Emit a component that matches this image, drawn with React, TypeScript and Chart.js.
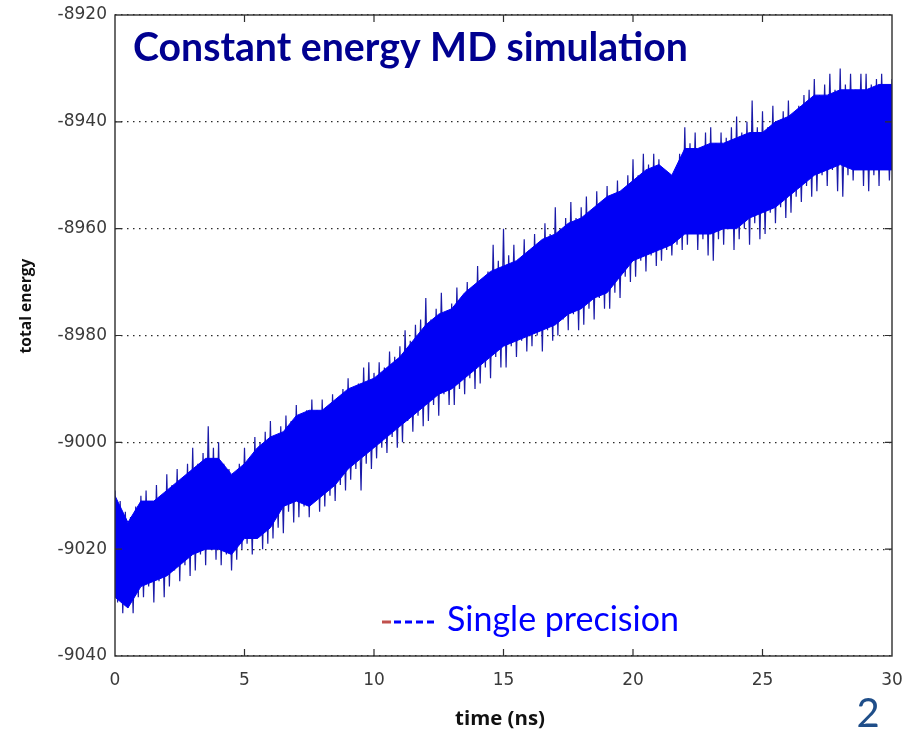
import React, { useEffect, useRef } from "react";
import { Chart, registerables } from "chart.js";

Chart.register(...registerables);

// ---- axis settings ----
const X_MIN = 0;
const X_MAX = 30;
const X_STEP = 5;
const Y_MIN = -9040;
const Y_MAX = -8920;
const Y_STEP = 20;

// ---- text ----
const TITLE = "Constant energy MD simulation";
const LEGEND_LABEL = "Single precision";
const X_TITLE = "time (ns)";
const Y_TITLE = "total energy";
const PAGE_NUMBER = "2";

// ---- solid core of the fluctuating band, every 0.5 ns from 0 to 30 ----
const CORE_STEP = 0.5;
const coreTop = [
  -9010, -9015, -9011, -9011, -9009, -9007, -9005, -9003, -9003, -9006,
  -9004, -9001, -8999, -8998, -8995, -8994, -8994, -8992, -8990, -8989,
  -8988, -8986, -8984, -8981, -8978, -8976, -8975, -8972, -8970, -8968,
  -8967, -8966, -8964, -8962, -8961, -8959, -8958, -8956, -8954, -8953,
  -8951, -8949, -8948, -8950, -8945, -8945, -8944, -8944, -8943, -8942,
  -8942, -8940, -8939, -8937, -8935, -8935, -8934, -8934, -8934, -8933,
  -8933,
];
const coreBottom = [
  -9029, -9031, -9027, -9026, -9025, -9023, -9021, -9020, -9020, -9021,
  -9018, -9018, -9016, -9012, -9011, -9012, -9010, -9008, -9005, -9003,
  -9001, -8999, -8997, -8995, -8993, -8991, -8990, -8988, -8986, -8984,
  -8982, -8981, -8980, -8979, -8978, -8976, -8975, -8973, -8972, -8969,
  -8966, -8965, -8964, -8963, -8961, -8961, -8961, -8960, -8960, -8958,
  -8957, -8956, -8954, -8952, -8950, -8949, -8948, -8949, -8949, -8949,
  -8949,
];

// ---- fluctuation peaks (t = 0, 0.2, ... 30) and troughs (t = 0.1, 0.3, ... 29.9) ----
const PEAK_STEP = 0.2;
const peaks = [
  -9009, -9011, -9013, -9014, -9012,
  -9010, -9009, -9011, -9008, -9010,
  -9006, -9008, -9005, -9007, -9004,
  -9001, -9004, -9002, -8997, -9001,
  -9000, -9004, -9005, -9007, -9004,
  -9001, -9003, -8999, -9000, -8998,
  -8996, -8999, -8997, -8995, -8996,
  -8993, -8995, -8994, -8992, -8994,
  -8992, -8994, -8991, -8992, -8990,
  -8988, -8990, -8989, -8986, -8985,
  -8987, -8985, -8986, -8983, -8984,
  -8982, -8979, -8981, -8978, -8977,
  -8973, -8977, -8975, -8972, -8976,
  -8974, -8971, -8973, -8970, -8971,
  -8967, -8970, -8968, -8963, -8966,
  -8960, -8965, -8963, -8966, -8962,
  -8964, -8961, -8963, -8959, -8961,
  -8956, -8960, -8958, -8955, -8958,
  -8956, -8954, -8957, -8953, -8955,
  -8952, -8954, -8951, -8953, -8950,
  -8947, -8950, -8946, -8948, -8946,
  -8947, -8949, -8951, -8950, -8946,
  -8941, -8944, -8942, -8945, -8942,
  -8941, -8944, -8942, -8943, -8941,
  -8939, -8942, -8940, -8936, -8941,
  -8938, -8941, -8937, -8940, -8938,
  -8936, -8939, -8937, -8935, -8934,
  -8932, -8935, -8933, -8931, -8934,
  -8930, -8933, -8931, -8934, -8931,
  -8931, -8933, -8932, -8931, -8934,
  -8932,
];
const troughs = [
  -9030, -9032, -9031, -9032, -9029,
  -9029, -9027, -9030, -9026, -9029,
  -9027, -9024, -9026, -9023, -9025,
  -9024, -9021, -9023, -9020, -9022,
  -9023, -9021, -9024, -9022, -9020,
  -9019, -9021, -9018, -9020, -9019,
  -9018, -9016, -9017, -9013, -9015,
  -9014, -9012, -9014, -9011, -9013,
  -9012, -9010, -9011, -9008, -9009,
  -9007, -9005, -9009, -9004, -9005,
  -9003, -9001, -9002, -8999, -9001,
  -9000, -8996, -8998, -8995, -8997,
  -8996, -8993, -8995, -8991, -8993,
  -8993, -8990, -8991, -8988, -8990,
  -8989, -8986, -8988, -8984, -8986,
  -8986, -8982, -8984, -8981, -8983,
  -8982, -8980, -8983, -8979, -8981,
  -8980, -8977, -8979, -8976, -8979,
  -8978, -8975, -8977, -8973, -8975,
  -8975, -8972, -8973, -8969, -8970,
  -8969, -8966, -8968, -8965, -8967,
  -8966, -8964, -8965, -8963, -8964,
  -8963, -8961, -8964, -8962, -8965,
  -8966, -8962, -8963, -8960, -8964,
  -8962, -8960, -8963, -8959, -8962,
  -8961, -8957, -8959, -8956, -8958,
  -8957, -8954, -8955, -8952, -8954,
  -8953, -8950, -8952, -8949, -8953,
  -8954, -8950, -8951, -8948, -8952,
  -8953, -8950, -8952, -8949, -8951,
];

const BAND_BLUE = "#0000f5";
const SIGNAL_BLUE = "#1a1aa8";

const r1 = (v: number) => Math.round(v * 1000) / 1000;

function buildSeries() {
  const signal: { x: number; y: number }[] = [];
  for (let i = 0; i < peaks.length; i++) {
    signal.push({ x: r1(i * PEAK_STEP), y: peaks[i] });
    if (i < troughs.length) signal.push({ x: r1(i * PEAK_STEP + PEAK_STEP / 2), y: troughs[i] });
  }
  const top = coreTop.map((y, i) => ({ x: r1(i * CORE_STEP), y }));
  const bottom = coreBottom.map((y, i) => ({ x: r1(i * CORE_STEP), y }));
  return { signal, top, bottom };
}

function fitSize(ctx: CanvasRenderingContext2D, text: string, weight: string, family: string, width: number) {
  ctx.font = `${weight} 100px ${family}`;
  const w = ctx.measureText(text).width;
  return (100 * width) / w;
}

const decorPlugin = {
  id: "decor",
  afterDraw(chart: any) {
    const { ctx, chartArea } = chart;
    const { left, right, top, bottom } = chartArea;
    const xs = chart.scales.x;
    const ys = chart.scales.y;
    ctx.save();

    // frame
    ctx.strokeStyle = "#2e2e2e";
    ctx.lineWidth = 1.4;
    ctx.setLineDash([]);
    ctx.strokeRect(left, top, right - left, bottom - top);

    // inward ticks
    ctx.lineWidth = 1.2;
    const TL = 7;
    xs.ticks.forEach((t: any) => {
      if (t.value <= X_MIN || t.value >= X_MAX) return;
      const px = xs.getPixelForValue(t.value);
      ctx.beginPath();
      ctx.moveTo(px, bottom);
      ctx.lineTo(px, bottom - TL);
      ctx.moveTo(px, top);
      ctx.lineTo(px, top + TL);
      ctx.stroke();
    });
    ys.ticks.forEach((t: any) => {
      if (t.value <= Y_MIN || t.value >= Y_MAX) return;
      const py = ys.getPixelForValue(t.value);
      ctx.beginPath();
      ctx.moveTo(left, py);
      ctx.lineTo(left + TL, py);
      ctx.moveTo(right, py);
      ctx.lineTo(right - TL, py);
      ctx.stroke();
    });

    // chart title inside the plot
    const titleSize = fitSize(ctx, TITLE, "bold", "Lato, 'Open Sans', sans-serif", 555);
    ctx.font = `bold ${titleSize}px Lato, 'Open Sans', sans-serif`;
    ctx.fillStyle = "#000090";
    ctx.textAlign = "left";
    ctx.textBaseline = "alphabetic";
    ctx.fillText(TITLE, 133, 61);

    // legend sample + label
    ctx.lineWidth = 3;
    ctx.strokeStyle = "#c0504d";
    ctx.beginPath();
    ctx.moveTo(382, 622);
    ctx.lineTo(391, 622);
    ctx.stroke();
    ctx.strokeStyle = "#0000ff";
    ctx.setLineDash([7, 4]);
    ctx.beginPath();
    ctx.moveTo(394, 622);
    ctx.lineTo(438, 622);
    ctx.stroke();
    ctx.setLineDash([]);
    const legSize = fitSize(ctx, LEGEND_LABEL, "normal", "Lato, 'Open Sans', sans-serif", 232);
    ctx.font = `normal ${legSize}px Lato, 'Open Sans', sans-serif`;
    ctx.fillStyle = "#0000ff";
    ctx.fillText(LEGEND_LABEL, 447, 631);

    // axis titles
    const xtSize = fitSize(ctx, X_TITLE, "bold", "'Open Sans', sans-serif", 90);
    ctx.font = `bold ${xtSize}px 'Open Sans', sans-serif`;
    ctx.fillStyle = "#111111";
    ctx.textAlign = "center";
    ctx.textBaseline = "middle";
    ctx.fillText(X_TITLE, 500, 719);

    const ytSize = fitSize(ctx, Y_TITLE, "bold", "'Open Sans', sans-serif", 95);
    ctx.font = `bold ${ytSize}px 'Open Sans', sans-serif`;
    ctx.save();
    ctx.translate(27, 306);
    ctx.rotate(-Math.PI / 2);
    ctx.fillText(Y_TITLE, 0, 0);
    ctx.restore();

    // page number
    ctx.font = `normal 40px Lato, 'Open Sans', sans-serif`;
    ctx.fillStyle = "#1f4e89";
    ctx.textAlign = "center";
    ctx.textBaseline = "alphabetic";
    ctx.fillText(PAGE_NUMBER, 868, 727);

    ctx.restore();
  },
};

export default function App() {
  const canvasRef = useRef<HTMLCanvasElement | null>(null);

  useEffect(() => {
    const canvas = canvasRef.current;
    if (!canvas) return;
    const { signal, top, bottom } = buildSeries();

    const chart = new Chart(canvas, {
      type: "line",
      data: {
        datasets: [
          {
            label: "signal",
            data: signal,
            borderColor: SIGNAL_BLUE,
            borderWidth: 1.2,
            pointRadius: 0,
            fill: false,
            tension: 0,
            order: 3,
          },
          {
            label: "core top",
            data: top,
            borderColor: BAND_BLUE,
            backgroundColor: BAND_BLUE,
            borderWidth: 1,
            pointRadius: 0,
            fill: "+1",
            tension: 0,
            order: 1,
          },
          {
            label: "core bottom",
            data: bottom,
            borderColor: BAND_BLUE,
            borderWidth: 1,
            pointRadius: 0,
            fill: false,
            tension: 0,
            order: 2,
          },
        ],
      },
      options: {
        animation: false,
        responsive: true,
        maintainAspectRatio: false,
        layout: { padding: { top: 15, right: 23, left: 0, bottom: 0 } },
        plugins: {
          legend: { display: false },
          tooltip: { enabled: false },
          title: { display: false },
        },
        scales: {
          x: {
            type: "linear",
            min: X_MIN,
            max: X_MAX,
            ticks: {
              stepSize: X_STEP,
              color: "#3a3a3a",
              font: { family: "'DejaVu Sans', sans-serif", size: 17 },
              padding: 14,
              maxRotation: 0,
              callback: (v: any) => String(v),
            },
            grid: { display: false, drawTicks: false },
            border: { display: false },
            afterFit: (s: any) => {
              s.height = 73;
              s.paddingLeft = 0;
              s.paddingRight = 0;
            },
          },
          y: {
            type: "linear",
            min: Y_MIN,
            max: Y_MAX,
            ticks: {
              stepSize: Y_STEP,
              color: "#3a3a3a",
              font: { family: "'DejaVu Sans', sans-serif", size: 17 },
              padding: 8,
              callback: (v: any) => String(v),
            },
            grid: { display: true, drawTicks: false, color: "#2a2a2a", lineWidth: 1.2 },
            border: { display: false, dash: [1.5, 4.5] },
            afterFit: (s: any) => {
              s.width = 115;
              s.paddingTop = 0;
              s.paddingBottom = 0;
            },
          },
        },
      },
      plugins: [decorPlugin],
    });

    return () => chart.destroy();
  }, []);

  return (
    <div style={{ position: "fixed", left: 0, top: 0, width: 915, height: 729, background: "#ffffff" }}>
      <canvas ref={canvasRef} />
    </div>
  );
}
